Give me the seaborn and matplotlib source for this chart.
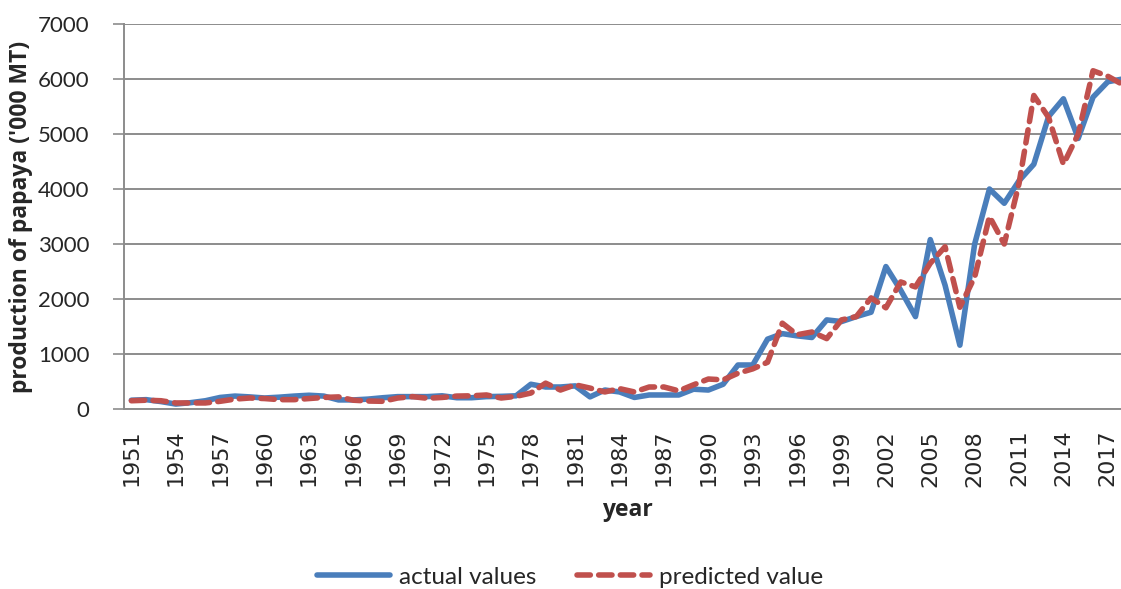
import matplotlib
matplotlib.use("Agg")
import matplotlib.pyplot as plt
import seaborn as sns
import numpy as np
import pandas as pd

years = list(range(1951, 2019))

actual_values = [160, 170, 135, 90, 115, 150, 210, 235, 220, 200,
                 215, 235, 250, 235, 165, 165, 180, 205, 225, 225,
                 225, 240, 205, 205, 225, 230, 240, 450, 400, 400,
                 420, 220, 345, 310, 210, 255, 255, 255, 360, 345,
                 450, 800, 800, 1270, 1370, 1330, 1300, 1620, 1590, 1680,
                 1760, 2590, 2160, 1680, 3080, 2250, 1160, 3000, 4000, 3740,
                 4150, 4450, 5320, 5640, 4920, 5670, 5950, 6000]

predicted_value = [150, 160, 150, 110, 110, 110, 140, 180, 200, 190,
                   170, 170, 190, 210, 220, 160, 145, 140, 200, 225,
                   195, 210, 235, 240, 255, 200, 230, 290, 470, 345,
                   440, 380, 310, 370, 310, 400, 400, 330, 440, 545,
                   530, 650, 730, 850, 1560, 1350, 1400, 1280, 1620, 1680,
                   2020, 1840, 2310, 2220, 2650, 2950, 1850, 2400, 3500, 3000,
                   4100, 5700, 5300, 4450, 5000, 6150, 6050, 5900]

y_ticks = [0, 1000, 2000, 3000, 4000, 5000, 6000, 7000]

df = pd.DataFrame({"pos": np.arange(len(years)),
                   "actual": actual_values,
                   "predicted": predicted_value})

sns.set_style("white")
plt.rcParams['font.family'] = ['Lato', 'DejaVu Sans']

BLUE = "#4A7EBB"
RED = "#C0504D"
GRID = "#8C8C8C"

fig = plt.figure(figsize=(11.21, 5.89), dpi=100)
ax = fig.add_axes([124 / 1121, 1 - 409 / 589, 1006 / 1121, 385 / 589])

sns.lineplot(data=df, x="pos", y="actual", ax=ax, color=BLUE, linewidth=4.0,
             label="actual values")
sns.lineplot(data=df, x="pos", y="predicted", ax=ax, color=RED, linewidth=4.0,
             label="predicted value")
ax.lines[1].set_dashes((2.4, 1.5))
ax.lines[1].set_dash_capstyle("round")

ax.set_xlim(-0.5, len(years) - 0.5)
ax.set_ylim(0, 7000)
ax.set_yticks(y_ticks)
ax.set_yticklabels([str(v) for v in y_ticks], fontsize=16)
ax.yaxis.grid(True, color=GRID, linewidth=1.4)
ax.set_axisbelow(True)

ax.set_xticks(np.arange(0, len(years), 3))
ax.set_xticklabels([str(y) for y in years[::3]], rotation=90)
for t in ax.get_xticklabels():
    t.set_family("DejaVu Sans")
    t.set_fontsize(16)
ax.set_xticks(np.arange(-0.5, len(years), 1), minor=True)
ax.tick_params(axis="x", which="major", length=0, pad=15)
ax.tick_params(axis="x", which="minor", length=8, width=1.2, color=GRID,
               direction="out")
ax.tick_params(axis="y", length=8, width=1.2, color=GRID, direction="out",
               pad=17, left=True)

for side in ["top", "right"]:
    ax.spines[side].set_visible(False)
for side in ["left", "bottom"]:
    ax.spines[side].set_color(GRID)
    ax.spines[side].set_linewidth(1.4)

ax.set_xlabel("year", family="Open Sans", fontsize=16.5, fontweight="bold",
              labelpad=8)
ax.set_ylabel("production of papaya ('000 MT)", family="Open Sans",
              fontsize=16.5, fontweight="bold", labelpad=3)

leg = ax.legend(loc="center", bbox_to_anchor=(570 / 1121, 1 - 577 / 589),
                bbox_transform=fig.transFigure, ncol=2, frameon=False,
                fontsize=17.5, handlelength=3.0, columnspacing=1.7,
                handletextpad=0.35, borderpad=0.1)

fig.savefig("out.png", dpi=100)
plt.close(fig)
